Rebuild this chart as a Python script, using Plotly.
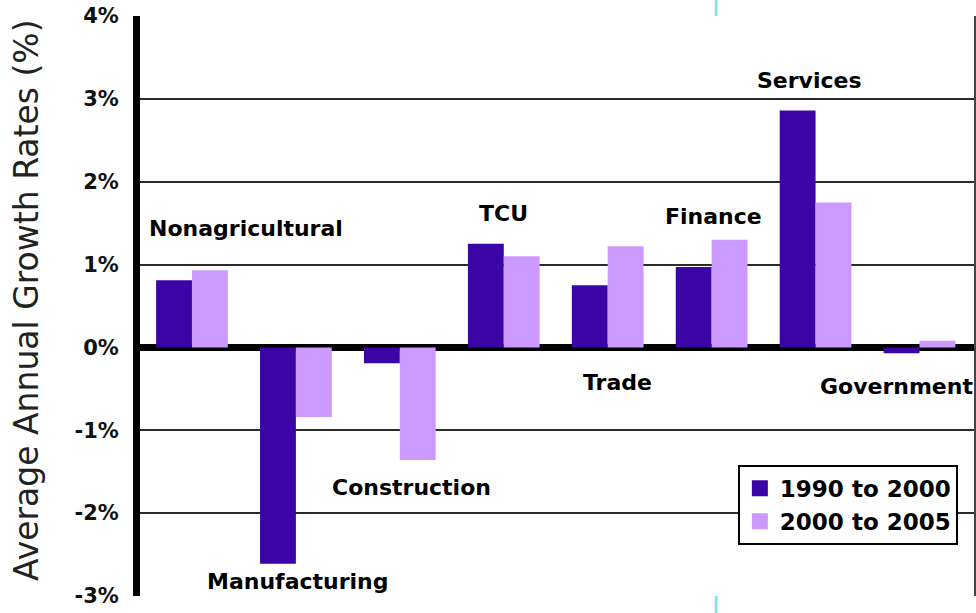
import plotly.graph_objects as go

categories = ["Nonagricultural", "Manufacturing", "Construction", "TCU",
              "Trade", "Finance", "Services", "Government"]
series_names = ["1990 to 2000", "2000 to 2005"]
growth_1990_2000 = [0.81, -2.61, -0.19, 1.25, 0.75, 0.97, 2.86, -0.07]
growth_2000_2005 = [0.93, -0.84, -1.36, 1.10, 1.22, 1.30, 1.75, 0.08]
tick_vals = [-3, -2, -1, 0, 1, 2, 3, 4]
tick_text = ["-3%", "-2%", "-1%", "0%", "1%", "2%", "3%", "4%"]
y_title = "Average Annual Growth Rates (%)"

# label placement (data y, pixel x offset from category centre)
label_y = [1.44, -2.83, -1.69, 1.62, -0.42, 1.58, 3.22, -0.47]
label_dx = [54, 2, 12, 0, 10, 2, -6, -23]

DARK = "#3B04A6"
LIGHT = "#CC99FF"
BOLD = "DejaVu Sans"

fig = go.Figure()
fig.add_trace(go.Bar(x=categories, y=growth_1990_2000, name=series_names[0],
                     marker=dict(color=DARK, line=dict(width=0)), showlegend=False))
fig.add_trace(go.Bar(x=categories, y=growth_2000_2005, name=series_names[1],
                     marker=dict(color=LIGHT, line=dict(width=0)), showlegend=False))
# legend entries
for nm, col in zip(series_names, [DARK, LIGHT]):
    fig.add_trace(go.Scatter(x=[None], y=[None], mode="markers", name=nm,
                             marker=dict(symbol="square", size=20, color=col)))

annotations = []
for c, ly, dx in zip(categories, label_y, label_dx):
    annotations.append(dict(x=c, y=ly, xref="x", yref="y", text=c, showarrow=False,
                            xshift=dx, xanchor="center", yanchor="middle",
                            font=dict(family=BOLD, size=22, color="black", weight="bold")))
annotations.append(dict(x=0, y=0.5, xref="paper", yref="paper", text=y_title,
                        showarrow=False, textangle=-90, xshift=-114, yshift=6,
                        xanchor="center", yanchor="middle",
                        font=dict(family="DejaVu Sans", size=33, color="#222222")))

shapes = [
    # right border
    dict(type="line", xref="paper", yref="paper", x0=1, x1=1, y0=0, y1=1,
         line=dict(color="#444444", width=2)),
    # light blue page guide outside plot
    dict(type="line", xref="paper", yref="paper", x0=0.69, x1=0.69, y0=1, y1=1.03,
         line=dict(color="#8EE0EE", width=3)),
    dict(type="line", xref="paper", yref="paper", x0=0.69, x1=0.69, y0=-0.03, y1=0,
         line=dict(color="#8EE0EE", width=3)),
]

fig.update_layout(
    width=976, height=613,
    margin=dict(l=140, r=1, t=16, b=17),
    paper_bgcolor="white", plot_bgcolor="white",
    barmode="group", bargap=0.31, bargroupgap=0,
    annotations=annotations, shapes=shapes,
    legend=dict(x=0.716, y=0.226, xanchor="left", yanchor="top",
                bgcolor="white", bordercolor="black", borderwidth=2,
                font=dict(family=BOLD, size=23, color="black", weight="bold"),
                itemsizing="trace", tracegroupgap=0),
    xaxis=dict(showticklabels=False, showgrid=False, zeroline=False, showline=False,
               ticks=""),
    yaxis=dict(range=[-3, 4], tickvals=tick_vals, ticktext=tick_text,
               showgrid=True, gridcolor="#2a2a2a", gridwidth=2,
               zeroline=True, zerolinecolor="black", zerolinewidth=7,
               showline=True, linecolor="black", linewidth=7, ticks="",
               tickfont=dict(family=BOLD, size=21, color="#111111", weight="bold"),
               ticklabelstandoff=10),
)

fig.write_html("out.html")
